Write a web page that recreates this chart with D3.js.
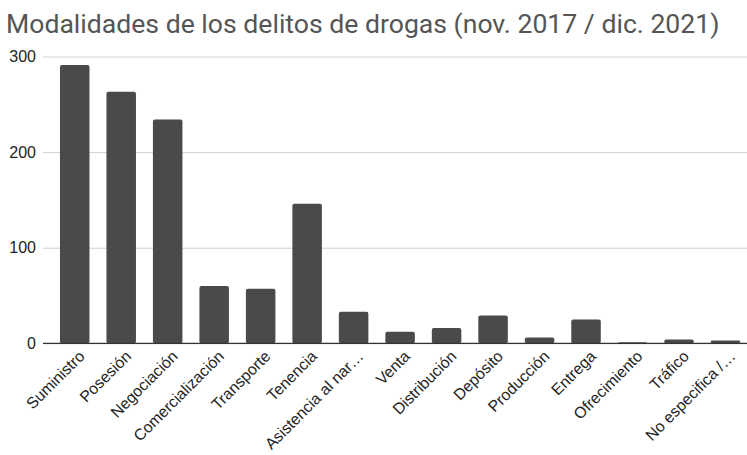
<!DOCTYPE html>
<html>
<head>
<meta charset="utf-8">
<script src="https://cdn.jsdelivr.net/npm/d3@7"></script>
<style>
  body { margin: 0; background: #fff; }
  svg { display: block; }
</style>
</head>
<body>
<div id="container"></div>
<script>
// datos
const categories = [
  "Suministro", "Posesión", "Negociación", "Comercialización", "Transporte",
  "Tenencia", "Asistencia al nar…", "Venta", "Distribución", "Depósito",
  "Producción", "Entrega", "Ofrecimiento", "Tráfico", "No especifica /…"
];
const values = [291, 263, 234, 60, 57, 146, 33, 12, 16, 29, 6, 25, 1, 4, 3];
const yTicks = [0, 100, 200, 300];

const w = 747;
const h = 455;
const left = 43;
const baseY = 343.3;
const topY = 56.5;

const svg = d3.select("#container")
  .append("svg")
  .attr("width", w)
  .attr("height", h);

// title
svg.append("text")
  .attr("x", 6)
  .attr("y", 33)
  .style("font-family", "Roboto, 'Liberation Sans', sans-serif")
  .style("font-size", "26.6px")
  .style("fill", "#555")
  .text("Modalidades de los delitos de drogas (nov. 2017 / dic. 2021)");

//Scales
const xScale = d3.scaleBand()
  .domain(categories)
  .range([51.6, 748.6])
  .paddingInner(0.365)
  .paddingOuter(0.18);

const yScale = d3.scaleLinear()
  .domain([0, 300])
  .range([baseY, topY]);

// gridlines + y labels
const yAxis = d3.axisLeft(yScale)
  .tickValues(yTicks)
  .tickSize(-(w - left))
  .tickFormat(d3.format("d"));

const gy = svg.append("g")
  .attr("transform", "translate(" + left + ",0)")
  .call(yAxis);
gy.select(".domain").remove();
gy.selectAll(".tick line")
  .attr("stroke", "#d0d0d0")
  .attr("stroke-width", 1);
gy.selectAll(".tick text")
  .attr("x", -7)
  .style("font-family", "'Liberation Sans', Arial, sans-serif")
  .style("font-size", "16px")
  .style("fill", "#222");

//Bars
svg.selectAll("rect.bar")
  .data(values)
  .enter()
  .append("rect")
  .attr("class", "bar")
  .attr("x", (d, i) => xScale(categories[i]))
  .attr("y", (d) => yScale(d))
  .attr("width", xScale.bandwidth())
  .attr("height", (d) => baseY - yScale(d))
  .attr("rx", 2)
  .attr("fill", "#4a4a4a");

// baseline
svg.append("line")
  .attr("x1", left)
  .attr("x2", w)
  .attr("y1", baseY)
  .attr("y2", baseY)
  .attr("stroke", "#333")
  .attr("stroke-width", 1.3);

// x labels
const xAxis = d3.axisBottom(xScale).tickSize(0);
const gx = svg.append("g")
  .attr("transform", "translate(0," + baseY + ")")
  .call(xAxis);
gx.select(".domain").remove();
gx.selectAll(".tick text")
  .attr("transform", "translate(7,10) rotate(-45)")
  .attr("x", 0)
  .attr("y", 0)
  .attr("dy", "0.35em")
  .style("text-anchor", "end")
  .style("font-family", "'Liberation Sans', Arial, sans-serif")
  .style("font-size", "15.8px")
  .style("fill", "#222");
</script>
</body>
</html>
